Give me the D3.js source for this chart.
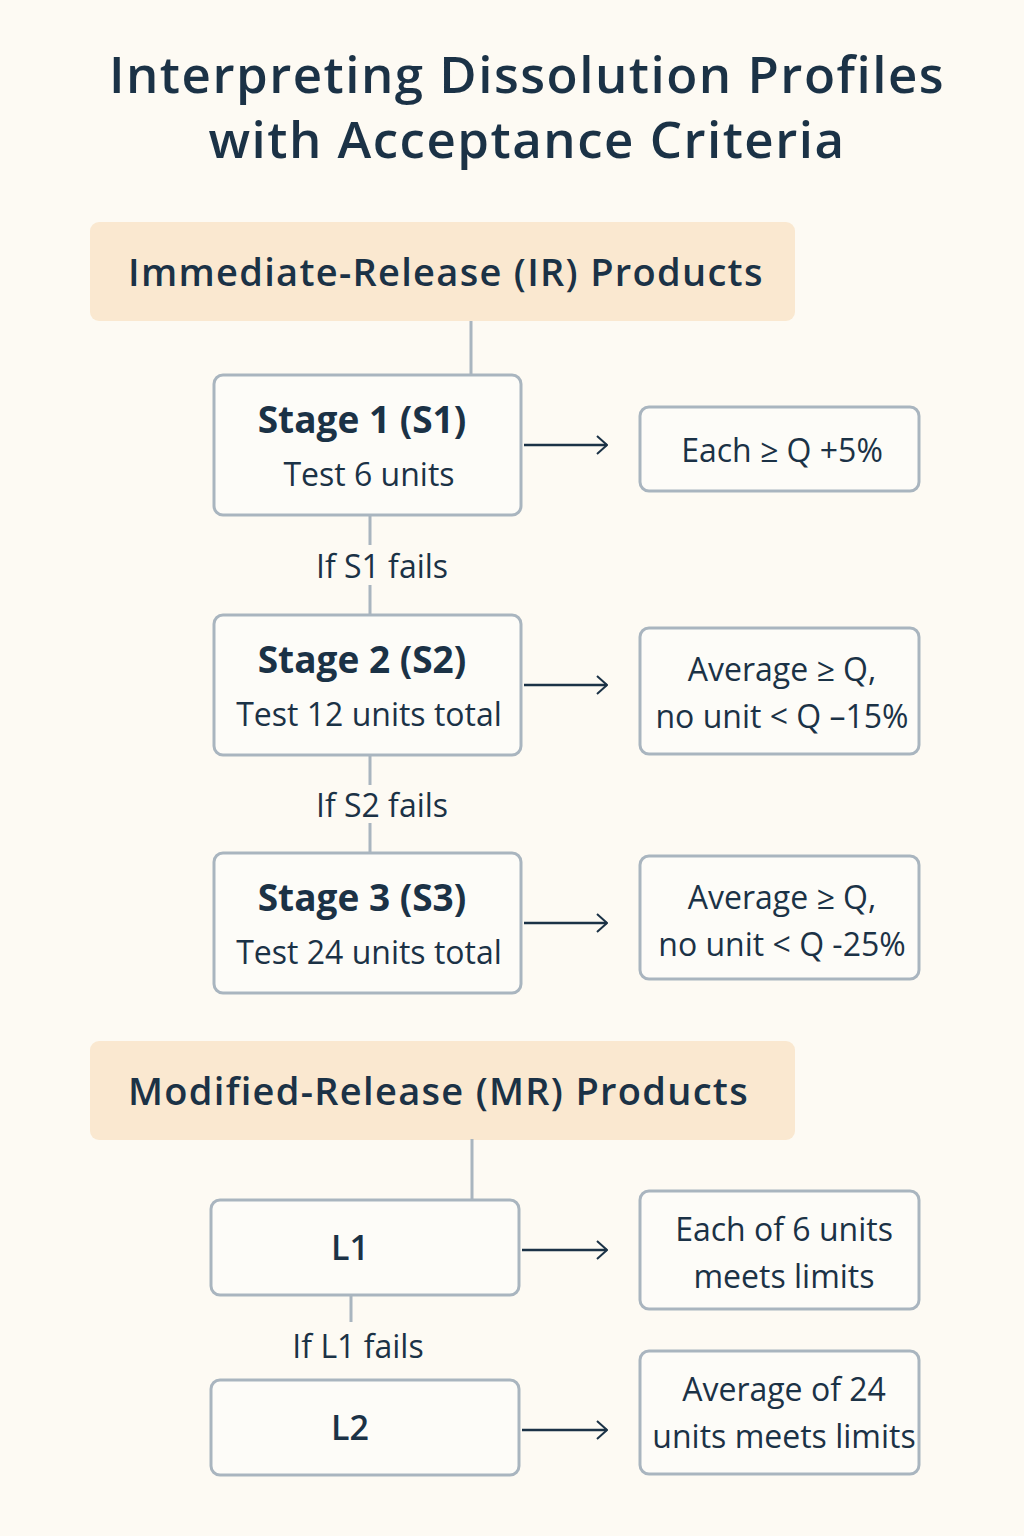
<!DOCTYPE html>
<html><head><meta charset="utf-8">
<script src="https://cdn.jsdelivr.net/npm/d3@7"></script>
<style>body{margin:0;background:#fdfaf3;}svg{display:block;font-family:"Open Sans","Noto Sans",sans-serif;}</style>
</head><body>
<script>
const titleLines = ["Interpreting Dissolution Profiles","with Acceptance Criteria"];
const sections = ["Immediate-Release (IR) Products","Modified-Release (MR) Products"];
const irStages = [["Stage 1 (S1)","Test 6 units"],["Stage 2 (S2)","Test 12 units total"],["Stage 3 (S3)","Test 24 units total"]];
const irCriteria = [["Each ≥ Q +5%"],["Average ≥ Q,","no unit < Q –15%"],["Average ≥ Q,","no unit < Q -25%"]];
const irFails = ["If S1 fails","If S2 fails"];
const mrStages = [["L1"],["L2"]];
const mrCriteria = [["Each of 6 units","meets limits"],["Average of 24","units meets limits"]];
const mrFails = ["If L1 fails"];

const W=1024,H=1536, ink="#1b3246", stroke="#a9b5bf";
const svg=d3.select("body").append("svg").attr("width",W).attr("height",H);
svg.append("rect").attr("width",W).attr("height",H).attr("fill","#fdfaf3");
svg.append("defs").append("marker").attr("id","ah").attr("viewBox","0 0 12 20").attr("refX",11).attr("refY",10)
 .attr("markerWidth",12).attr("markerHeight",20).attr("markerUnits","userSpaceOnUse").attr("orient","auto")
 .append("path").attr("d","M1,1 L11,10 L1,19").attr("fill","none").attr("stroke",ink).attr("stroke-width",2);

svg.selectAll("text.title").data(titleLines).join("text").attr("x",527).attr("y",(d,i)=>93+i*65)
 .attr("text-anchor","middle").attr("font-size",51).attr("letter-spacing",1.5).attr("font-weight",600).attr("fill",ink).text(d=>d);

const secY=[222,1041];
svg.selectAll("rect.sec").data(sections).join("rect").attr("x",90).attr("y",(d,i)=>secY[i]).attr("width",705).attr("height",99)
 .attr("rx",9).attr("fill","#fae8d0");
svg.selectAll("text.sec").data(sections).join("text").attr("x",128).attr("y",(d,i)=>secY[i]+64)
 .attr("font-size",38).attr("letter-spacing",1.3).attr("font-weight",600).attr("fill",ink).text(d=>d);

function line(x1,y1,x2,y2,c,w,m){const l=svg.append("line").attr("x1",x1).attr("y1",y1).attr("x2",x2).attr("y2",y2).attr("stroke",c).attr("stroke-width",w);if(m)l.attr("marker-end","url(#ah)");}
function box(x,y,w,h){svg.append("rect").attr("x",x).attr("y",y).attr("width",w).attr("height",h).attr("rx",9).attr("fill","#fdfcf8").attr("stroke",stroke).attr("stroke-width",3);}
function txt(x,y,s,size,weight){svg.append("text").attr("x",x).attr("y",y).attr("text-anchor","middle").attr("font-size",size).attr("font-weight",weight).attr("fill",ink).text(s);}

// IR
line(471,321,471,375,stroke,3);
const irTop=[375,615,853], irCrit=[[407,84],[628,126],[856,123]];
irStages.forEach((s,i)=>{
  const y=irTop[i];
  box(214,y,307,140);
  txt(362,y+58,s[0],37,700); txt(369,y+111,s[1],32,400);
  const ay=y+70; line(524,ay,607,ay,ink,2.5,true);
  const [cy,ch]=irCrit[i]; box(640,cy,279,ch);
  const c=irCriteria[i];
  c.forEach((t,j)=>txt(782,c.length==1?cy+55:cy+53+j*47,t,32,400));
});
irFails.forEach((f,i)=>{
  const y0=irTop[i]+140,y1=irTop[i+1];
  line(370,y0,370,y0+30,stroke,3); line(370,y1-30,370,y1,stroke,3);
  txt(382,(y0+y1)/2+13,f,32,400);
});

// MR
line(472,1139,472,1200,stroke,3);
const mrTop=[1200,1380], mrCrit=[[1191,118],[1351,123]];
mrStages.forEach((s,i)=>{
  const y=mrTop[i];
  box(211,y,308,95); txt(350,y+60,s[0],34,600);
  line(522,y+50,607,y+50,ink,2.5,true);
  const [cy,ch]=mrCrit[i]; box(640,cy,279,ch);
  mrCriteria[i].forEach((t,j)=>txt(784,cy+50+j*47,t,32,400));
});
mrFails.forEach((f,i)=>{
  line(351,1295,351,1322,stroke,3);
  txt(358,1358,f,32,400);
});
</script>
</body></html>
